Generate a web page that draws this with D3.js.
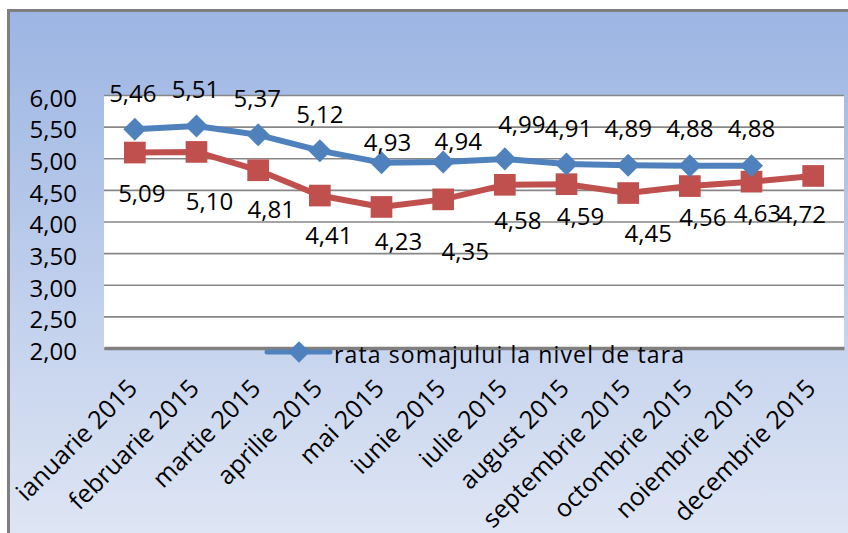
<!DOCTYPE html>
<html>
<head>
<meta charset="utf-8">
<script src="https://cdn.jsdelivr.net/npm/d3@7"></script>
<style>
  html, body { margin: 0; padding: 0; background: #fff; }
  svg { display: block; }
  text { font-family: "Open Sans", "DejaVu Sans", sans-serif; fill: #000; }
</style>
</head>
<body>
<svg id="chart" width="848" height="533"></svg>
<script>
// ---- data ----
const months = ["ianuarie 2015","februarie 2015","martie 2015","aprilie 2015","mai 2015","iunie 2015",
  "iulie 2015","august 2015","septembrie 2015","octombrie 2015","noiembrie 2015","decembrie 2015"];
const seriesNational = [5.46, 5.51, 5.37, 5.12, 4.93, 4.94, 4.99, 4.91, 4.89, 4.88, 4.88];
const seriesRegional = [5.09, 5.10, 4.81, 4.41, 4.23, 4.35, 4.58, 4.59, 4.45, 4.56, 4.63, 4.72];
const yTicks = [2.0, 2.5, 3.0, 3.5, 4.0, 4.5, 5.0, 5.5, 6.0];
const legendLabel = "rata somajului la nivel de tara";

// ---- label offsets (layout, pixels relative to each point) ----
const nationalLabelDx = [-2, -1, -1, 0, 6, 15, 17, 2, 0, 0, 0];
const nationalLabelDy = [-36, -37, -36, -36, -20, -21, -35, -36, -37, -37, -37];
const regionalLabelDx = [7, 13, 13, 9, 17, 22, 13, 14, 20, 13, 6, -11];
const regionalLabelDy = [41, 49, 39, 40, 34, 52, 36, 32, 40, 31, 32, 38];

const fmt = v => v.toFixed(2).replace(".", ",");
const BLUE = "#4F81BD", RED = "#C0504D";

const svg = d3.select("#chart");

// background gradient
const defs = svg.append("defs");
const grad = defs.append("linearGradient").attr("id", "bg").attr("x1", 0).attr("y1", 0).attr("x2", 0).attr("y2", 1);
grad.append("stop").attr("offset", "0%").attr("stop-color", "#9CB5E3");
grad.append("stop").attr("offset", "100%").attr("stop-color", "#DFE6F4");

svg.append("rect").attr("x", 8).attr("y", 10).attr("width", 850).attr("height", 530).attr("fill", "url(#bg)");
// border (top + left)
svg.append("path").attr("d", "M8.5,540 L8.5,10.5 L848,10.5").attr("fill", "none")
  .attr("stroke", "#7F7F7F").attr("stroke-width", 3);

// plot area
const L = 104, R = 844, T = 95, B = 348;
svg.append("rect").attr("x", L).attr("y", T).attr("width", R - L).attr("height", B - T).attr("fill", "#fff");

const x = d3.scaleBand().domain(months).range([L, R]);
const cx = d => x(d) + x.bandwidth() / 2;
const y = d3.scaleLinear().domain([2, 6]).range([B, T]);

// y axis with gridlines
const yAxis = svg.append("g").attr("transform", `translate(${L},0)`)
  .call(d3.axisLeft(y).tickValues(yTicks).tickFormat(fmt).tickSize(-(R - L)).tickPadding(27));
yAxis.select(".domain").remove();
yAxis.selectAll(".tick line").attr("stroke", "#878787").attr("stroke-width", 1.6);
yAxis.selectAll(".tick text").attr("font-size", 24).attr("dy", "0.47em")
  .style("font-family", "'Open Sans', sans-serif").attr("fill", "#000");

// bottom axis line + labels
const xAxis = svg.append("g").attr("transform", `translate(0,${B})`)
  .call(d3.axisBottom(x).tickSize(0).tickPadding(0));
xAxis.select(".domain").attr("stroke", "#808080").attr("stroke-width", 3.5);
xAxis.selectAll(".tick text")
  .attr("font-size", 25).attr("text-anchor", "end")
  .style("font-family", "'Open Sans', sans-serif").attr("fill", "#000")
  .attr("x", 0).attr("y", 0).attr("dy", 0)
  .attr("transform", "translate(4,42) rotate(-45)");

// lines
const lineGen = d3.line().x((d, i) => cx(months[i])).y(d => y(d));
function drawSeries(data, color, shape, size, rot) {
  svg.append("path").datum(data).attr("d", lineGen)
    .attr("fill", "none").attr("stroke", color).attr("stroke-width", 6).attr("stroke-linejoin", "round");
  svg.append("g").selectAll("path").data(data).join("path")
    .attr("transform", (d, i) => `translate(${cx(months[i])},${y(d)}) rotate(${rot})`)
    .attr("d", d3.symbol().type(shape).size(size))
    .attr("fill", color);
}
drawSeries(seriesRegional, RED, d3.symbolSquare, 470, 0);
drawSeries(seriesNational, BLUE, d3.symbolSquare, 265, 45);

// data labels
function drawLabels(data, dxs, dys) {
  svg.append("g").selectAll("text").data(data).join("text")
    .attr("x", (d, i) => cx(months[i]) + dxs[i])
    .attr("y", (d, i) => y(d) + dys[i])
    .attr("dy", "0.36em")
    .attr("text-anchor", "middle")
    .attr("font-size", 24)
    .text(fmt);
}
drawLabels(seriesNational, nationalLabelDx, nationalLabelDy);
drawLabels(seriesRegional, regionalLabelDx, regionalLabelDy);

// legend
const lg = svg.append("g");
lg.append("line").attr("x1", 267).attr("x2", 330).attr("y1", 352).attr("y2", 352)
  .attr("stroke", BLUE).attr("stroke-width", 5).attr("stroke-linecap", "round");
lg.append("path").attr("transform", "translate(299,352) rotate(45)")
  .attr("d", d3.symbol().type(d3.symbolSquare).size(230)).attr("fill", BLUE);
lg.append("text").attr("x", 334).attr("y", 363).attr("font-size", 23)
  .attr("textLength", 350).attr("lengthAdjust", "spacing").text(legendLabel);
</script>
</body>
</html>
